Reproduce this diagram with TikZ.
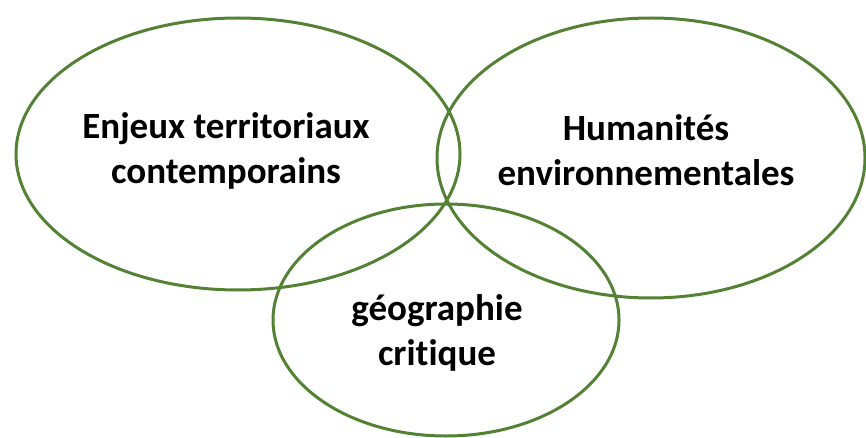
\documentclass[tikz,border=0pt]{standalone}
\usepackage{fontspec}
\setmainfont{Carlito}[Ligatures=NoCommon]
\usepackage{tikz}
\usetikzlibrary{shapes}

\definecolor{venngreen}{RGB}{84,130,53}

\begin{document}
\begin{tikzpicture}[x=1pt, y=-1pt,
      circle_line/.style ={draw=venngreen, line width=3pt},
      block_label/.style ={rectangle, draw=none, fill=none, align=center,
        font=\fontsize{37}{45}\selectfont\bfseries, inner sep=0pt}]
    %
    % 1. frame of the picture
    \useasboundingbox (0,0) rectangle (866,438);
    %
    % 2. the three fields as ellipses
    \draw[circle_line] (238,154) ellipse [x radius=222, y radius=136];
    \draw[circle_line] (651,158) ellipse [x radius=214, y radius=140];
    \draw[circle_line] (446,320) ellipse [x radius=173, y radius=116];
    %
    % 3. names of the fields
    \node [block_label] (enjeux) at (226,151) {Enjeux territoriaux\\contemporains};
    \node [block_label] (humanites) at (646,150) {Humanités\\environnementales};
    \node [block_label] (geo) at (437,333) {géographie\\critique};
\end{tikzpicture}
\end{document}
